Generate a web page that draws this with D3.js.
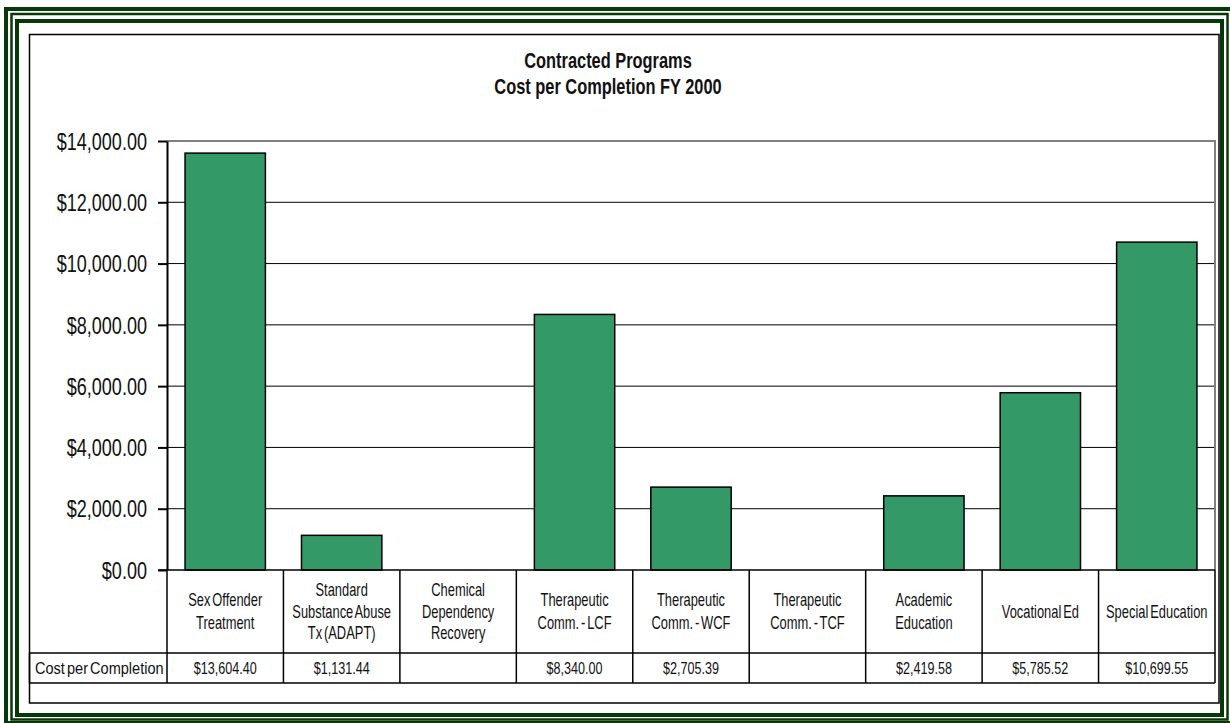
<!DOCTYPE html>
<html>
<head>
<meta charset="utf-8">
<script src="https://cdn.jsdelivr.net/npm/d3@7"></script>
<style>
  body { margin: 0; background: #ffffff; }
  svg { display: block; }
  text { font-family: "Liberation Sans Narrow", "Arial Narrow", "Liberation Sans", Arial, sans-serif; fill: #111; }
</style>
</head>
<body>
<svg id="chart" width="1230" height="723"></svg>
<script>
// Chart content
const titleLines = ["Contracted Programs", "Cost per Completion FY 2000"];
const categories = [
  ["Sex Offender", "Treatment"],
  ["Standard", "Substance Abuse", "Tx (ADAPT)"],
  ["Chemical", "Dependency", "Recovery"],
  ["Therapeutic", "Comm. - LCF"],
  ["Therapeutic", "Comm. - WCF"],
  ["Therapeutic", "Comm. - TCF"],
  ["Academic", "Education"],
  ["Vocational Ed"],
  ["Special Education"]
];
const seriesName = "Cost per Completion";
const costPerCompletion = [13604.40, 1131.44, null, 8340.00, 2705.39, null, 2419.58, 5785.52, 10699.55];
const yTickValues = [0, 2000, 4000, 6000, 8000, 10000, 12000, 14000];

const money = d3.format("$,.2f");
const svg = d3.select("#chart");

// Layout
const plot = { left: 167, right: 1215, top: 141, bottom: 570 };
const table = { left: 29.5, catBottom: 653, rowBottom: 683 };
const frame = { left: 29.5, top: 34.5, right: 1219, bottom: 703 };

const x = d3.scaleBand()
  .domain(d3.range(categories.length))
  .range([plot.left, plot.right])
  .paddingInner(0.31)
  .paddingOuter(0.155);
const step = x.step();
const cellLeft = i => plot.left + i * step;
const cellCenter = i => plot.left + (i + 0.5) * step;

const y = d3.scaleLinear().domain([0, 14000]).range([plot.bottom, plot.top]);

// Decorative triple green border
const green = "#083808";
[
  { x0: 6, y0: 9, x1: 1232, y1: 723, w: 4 },
  { x0: 11.5, y0: 14, x1: 1227.5, y1: 719.5, w: 2.5 },
  { x0: 17, y0: 21, x1: 1222, y1: 715, w: 4 }
].forEach(b => {
  svg.append("rect")
    .attr("x", b.x0).attr("y", b.y0)
    .attr("width", b.x1 - b.x0).attr("height", b.y1 - b.y0)
    .attr("fill", "none").attr("stroke", green).attr("stroke-width", b.w);
});

// Chart frame
svg.append("rect")
  .attr("x", frame.left).attr("y", frame.top)
  .attr("width", frame.right - frame.left).attr("height", frame.bottom - frame.top)
  .attr("fill", "none").attr("stroke", "#000").attr("stroke-width", 1.5);

// Title (condensed bold)
svg.append("g").selectAll("text").data(titleLines).join("text")
  .attr("text-anchor", "middle")
  .attr("font-size", 20)
  .attr("font-weight", "bold")
  .attr("transform", (d, i) => `translate(608,${68 + i * 26}) scale(0.82,1.08)`)
  .text(d => d);

// Gridlines
svg.append("g").selectAll("line")
  .data(yTickValues.filter(v => v > 0 && v < 14000)).join("line")
  .attr("x1", plot.left).attr("x2", plot.right)
  .attr("y1", d => y(d)).attr("y2", d => y(d))
  .attr("stroke", "#000").attr("stroke-width", 1);

// Plot area border (top and right)
svg.append("path")
  .attr("d", `M${plot.left},${y(14000)}H${plot.right}V${plot.bottom}`)
  .attr("fill", "none").attr("stroke", "#808080").attr("stroke-width", 2);

// Bars
svg.append("g").selectAll("rect")
  .data(costPerCompletion.map((v, i) => ({ v, i })).filter(d => d.v != null)).join("rect")
  .attr("x", d => x(d.i))
  .attr("width", x.bandwidth())
  .attr("y", d => y(d.v))
  .attr("height", d => y(0) - y(d.v))
  .attr("fill", "#339966")
  .attr("stroke", "#000")
  .attr("stroke-width", 1.5);

// Y axis
const yAxis = svg.append("g")
  .attr("transform", `translate(${plot.left},0)`)
  .call(d3.axisLeft(y).tickValues(yTickValues).tickFormat(money)
    .tickSize(9).tickSizeOuter(0).tickPadding(11));
yAxis.select(".domain").attr("stroke", "#000").attr("stroke-width", 2);
yAxis.selectAll(".tick line").attr("stroke", "#000").attr("stroke-width", 2);
yAxis.selectAll(".tick text")
  .attr("font-family", null)
  .attr("font-size", 21)
  .attr("fill", "#222")
  .attr("x", 0)
  .attr("dy", "0.34em")
  .attr("transform", "translate(-20,0) scale(0.86,1.14)");

// Data table: category row and value row
const tbl = svg.append("g").attr("stroke", "#000").attr("stroke-width", 1.5);
tbl.append("line").attr("x1", plot.left - 9).attr("x2", plot.right)
  .attr("y1", plot.bottom).attr("y2", plot.bottom);
tbl.append("line").attr("x1", table.left).attr("x2", plot.right)
  .attr("y1", table.catBottom).attr("y2", table.catBottom);
tbl.append("line").attr("x1", table.left).attr("x2", plot.right)
  .attr("y1", table.rowBottom).attr("y2", table.rowBottom);
tbl.append("line").attr("x1", table.left).attr("x2", table.left)
  .attr("y1", table.catBottom).attr("y2", table.rowBottom);
tbl.selectAll("line.sep").data(d3.range(categories.length + 1)).join("line")
  .attr("class", "sep")
  .attr("x1", i => cellLeft(i)).attr("x2", i => cellLeft(i))
  .attr("y1", plot.bottom).attr("y2", table.rowBottom);

// Category labels
const catMid = (plot.bottom + table.catBottom) / 2;
const catG = svg.append("g");
categories.forEach((lines, i) => {
  const lineH = lines.length > 2 ? 21.5 : 23;
  const first = catMid - (lines.length - 1) * lineH / 2 + 6;
  catG.selectAll(null).data(lines).enter().append("text")
    .attr("text-anchor", "middle")
    .attr("font-size", 15)
    .attr("word-spacing", -2)
    .attr("transform", (d, k) => `translate(${cellCenter(i)},${first + k * lineH}) scale(0.86,1.22)`)
    .text(d => d);
});

// Value row
const rowBase = 674;
svg.append("text")
  .attr("font-size", 15)
  .attr("word-spacing", -2)
  .attr("transform", `translate(35,${rowBase}) scale(0.97,1.15)`)
  .text(seriesName);
svg.append("g").selectAll("text")
  .data(costPerCompletion.map((v, i) => ({ v, i })).filter(d => d.v != null)).join("text")
  .attr("text-anchor", "middle")
  .attr("font-size", 15)
  .attr("transform", d => `translate(${cellCenter(d.i)},${rowBase}) scale(0.84,1.15)`)
  .text(d => money(d.v));
</script>
</body>
</html>
